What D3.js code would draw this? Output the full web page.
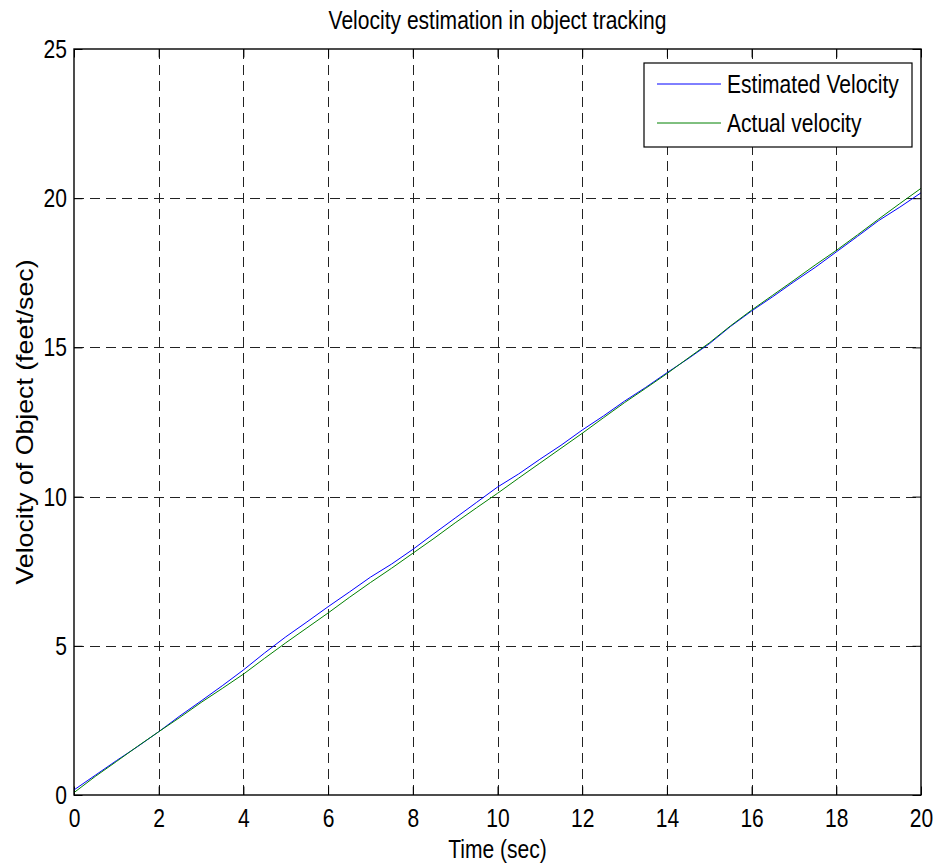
<!DOCTYPE html>
<html>
<head>
<meta charset="utf-8">
<script src="https://cdn.jsdelivr.net/npm/d3@7"></script>
<style>
  body { margin: 0; background: #fff; }
  svg { display: block; }
  text { font-family: "Liberation Sans", Arial, Helvetica, sans-serif; fill: #000; }
</style>
</head>
<body>
<svg width="937" height="867"></svg>
<script>
// ---- data
const timeSec = d3.range(41).map(i => i * 0.5); // 0, 0.5, ... 20
const estimatedVelocity = [
  0.17, 0.66, 1.15, 1.62, 2.12, 2.65, 3.15, 3.66, 4.19, 4.76,
  5.30, 5.80, 6.31, 6.80, 7.30, 7.74, 8.23, 8.76, 9.28, 9.80,
  10.32, 10.76, 11.25, 11.72, 12.23, 12.70, 13.20, 13.66, 14.15, 14.62,
  15.12, 15.70, 16.22, 16.70, 17.20, 17.68, 18.20, 18.72, 19.25, 19.70,
  20.18
];
const actualVelocity = [
  0.08, 0.62, 1.12, 1.63, 2.12, 2.60, 3.10, 3.57, 4.05, 4.58,
  5.10, 5.60, 6.10, 6.62, 7.12, 7.60, 8.10, 8.60, 9.12, 9.62,
  10.11, 10.62, 11.12, 11.62, 12.12, 12.64, 13.15, 13.63, 14.12, 14.64,
  15.15, 15.72, 16.25, 16.75, 17.25, 17.76, 18.25, 18.77, 19.30, 19.82,
  20.33
];
const xTicks = [0, 2, 4, 6, 8, 10, 12, 14, 16, 18, 20];
const yTicks = [0, 5, 10, 15, 20, 25];
const seriesNames = ["Estimated Velocity", "Actual velocity"];
const seriesColors = ["#0000ff", "#008000"];

// ---- layout
const svg = d3.select('svg');
const margens = { left: 74, right: 16, top: 49, bottom: 72 };
const W = 937, H = 867;
const innerWidth = W - margens.left - margens.right;
const innerHeight = H - margens.top - margens.bottom;
const fontSize = 26.3;
const narrow = 0.8; // the reference font is condensed

// squeeze a text to a fraction of its natural width (keeps its x/y)
function squeeze(sel, factor = narrow) {
  sel.each(function () {
    const len = this.getComputedTextLength();
    d3.select(this)
      .attr('textLength', len * factor)
      .attr('lengthAdjust', 'spacingAndGlyphs');
  });
}

const g = svg.append('g')
  .attr('transform', `translate(${margens.left}, ${margens.top})`);

// ---- scales
const mapX = d3.scaleLinear().domain([0, 20]).range([0, innerWidth]);
const mapY = d3.scaleLinear().domain([0, 25]).range([innerHeight, 0]);

// ---- grid (dashed)
g.append('g').selectAll('line')
  .data(xTicks.slice(1, -1))
  .join('line')
  .attr('x1', d => Math.round(mapX(d)) + 0.5).attr('x2', d => Math.round(mapX(d)) + 0.5)
  .attr('y1', 0).attr('y2', innerHeight)
  .attr('stroke', '#222').attr('stroke-dasharray', '10,6');

g.append('g').selectAll('line')
  .data(yTicks.slice(1, -1))
  .join('line')
  .attr('y1', d => Math.round(mapY(d)) + 0.5).attr('y2', d => Math.round(mapY(d)) + 0.5)
  .attr('x1', 0).attr('x2', innerWidth)
  .attr('stroke', '#222').attr('stroke-dasharray', '10,6');

// ---- axes (MATLAB style: inward ticks on all four sides)
const tickLen = 8.5;
const xAxis = d3.axisBottom(mapX).tickValues(xTicks).tickSize(-tickLen).tickPadding(13);
const yAxis = d3.axisLeft(mapY).tickValues(yTicks).tickSize(-tickLen).tickPadding(7);

g.append('g')
  .attr('transform', `translate(0, ${innerHeight})`)
  .call(xAxis)
  .call(a => a.select('.domain').remove())
  .call(a => a.selectAll('text')
    .attr('font-size', fontSize).attr('font-family', null)
    .attr('dy', '0.72em')
    .call(squeeze));

g.append('g')
  .call(yAxis)
  .call(a => a.select('.domain').remove())
  .call(a => a.selectAll('text')
    .attr('font-size', fontSize).attr('font-family', null)
    .call(squeeze));

g.append('g')
  .call(d3.axisTop(mapX).tickValues(xTicks).tickSize(-tickLen).tickFormat(''))
  .call(a => a.select('.domain').remove());

g.append('g')
  .attr('transform', `translate(${innerWidth}, 0)`)
  .call(d3.axisRight(mapY).tickValues(yTicks).tickSize(-tickLen).tickFormat(''))
  .call(a => a.select('.domain').remove());

g.selectAll('.tick line').attr('stroke', '#000');

// ---- lines
const line = d3.line()
  .x((d, i) => mapX(timeSec[i]))
  .y(d => mapY(d));

[estimatedVelocity, actualVelocity].forEach((serie, k) => {
  g.append('path')
    .datum(serie)
    .attr('d', line)
    .attr('fill', 'none')
    .attr('stroke', seriesColors[k])
    .attr('stroke-width', 1);
});

// ---- box
g.append('rect')
  .attr('x', 0).attr('y', 0)
  .attr('width', innerWidth).attr('height', innerHeight)
  .attr('fill', 'none').attr('stroke', '#000').attr('stroke-width', 1.4);

// ---- legend
const leg = g.append('g')
  .attr('transform', `translate(${644 - margens.left}, ${63 - margens.top})`);
leg.append('rect')
  .attr('width', 268).attr('height', 84)
  .attr('fill', '#fff').attr('stroke', '#000').attr('stroke-width', 1.2);
seriesNames.forEach((name, k) => {
  const y = 21 + k * 39;
  leg.append('line')
    .attr('x1', 13).attr('x2', 77).attr('y1', y).attr('y2', y)
    .attr('stroke', seriesColors[k]);
  leg.append('text')
    .attr('x', 83).attr('y', y + 9)
    .attr('font-size', fontSize)
    .text(name)
    .call(squeeze);
});

// ---- title and axis labels
svg.append('text')
  .attr('x', margens.left + innerWidth / 2).attr('y', 29)
  .attr('text-anchor', 'middle').attr('font-size', fontSize)
  .text('Velocity estimation in object tracking')
  .call(squeeze);

svg.append('text')
  .attr('x', margens.left + innerWidth / 2).attr('y', 858)
  .attr('text-anchor', 'middle').attr('font-size', fontSize)
  .text('Time (sec)')
  .call(squeeze);

// the y label in the reference is letter-spaced, so it is stretched a little
svg.append('text')
  .attr('transform', 'rotate(-90)')
  .attr('x', -(margens.top + innerHeight / 2)).attr('y', 33)
  .attr('text-anchor', 'middle').attr('font-size', 24.5)
  .text('Velocity of Object (feet/sec)')
  .call(squeeze, 1.09);
</script>
</body>
</html>
